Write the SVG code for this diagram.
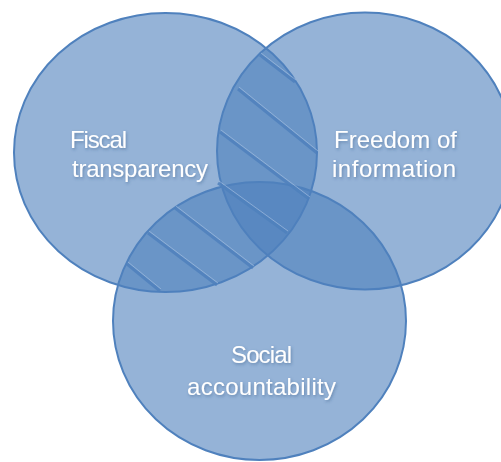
<svg xmlns="http://www.w3.org/2000/svg" width="501" height="462" viewBox="0 0 501 462">
  <defs>
    <style>
      .set { fill: #4F81BD; fill-opacity: 0.6; stroke: #4F81BD; stroke-width: 2; }
      .hatch { stroke: #4F81BD; stroke-width: 3; stroke-linecap: butt; opacity: 0.85; }
      .hl { stroke: #A9C2E2; stroke-width: 1; opacity: 0.6; }
      .label { font-family: "Liberation Sans", Arial, sans-serif; font-size: 24px; fill: #FFFFFF; filter: url(#glow); }
    </style>
    <filter id="glow" x="-10%" y="-30%" width="120%" height="160%">
      <feDropShadow dx="1" dy="1.5" stdDeviation="1.5" flood-color="#2F4F7A" flood-opacity="0.45"/>
    </filter>
  </defs>
  <rect width="501" height="462" fill="#FFFFFF"/>

  <g id="fiscal-transparency">
    <ellipse class="set" cx="165.5" cy="152.5" rx="151.5" ry="139.5"/>
  </g>
  <g id="freedom-of-information">
    <ellipse class="set" cx="365" cy="151" rx="148" ry="138.5"/>
  </g>
  <g id="social-accountability">
    <ellipse class="set" cx="259.5" cy="321" rx="146.5" ry="139"/>
  </g>

  <g id="hatching">
    <line class="hatch" x1="260" y1="55" x2="295" y2="82"/>
    <line class="hatch" x1="238" y1="89" x2="317" y2="153"/>
    <line class="hatch" x1="220" y1="132" x2="309" y2="199"/>
    <line class="hatch" x1="218" y1="183" x2="287" y2="233"/>
    <line class="hatch" x1="175" y1="208" x2="253" y2="268"/>
    <line class="hatch" x1="148" y1="233" x2="217" y2="285"/>
    <line class="hatch" x1="127" y1="264" x2="160" y2="291"/>
    <line class="hl" x1="261" y1="53" x2="296" y2="80"/>
    <line class="hl" x1="239" y1="87" x2="318" y2="151"/>
    <line class="hl" x1="221" y1="130" x2="310" y2="197"/>
    <line class="hl" x1="219" y1="181" x2="288" y2="231"/>
    <line class="hl" x1="176" y1="206" x2="254" y2="266"/>
    <line class="hl" x1="149" y1="231" x2="218" y2="283"/>
    <line class="hl" x1="128" y1="262" x2="161" y2="289"/>
  </g>

  <g id="labels">
    <text class="label" x="70" y="148" textLength="57">Fiscal</text>
    <text class="label" x="72" y="177" textLength="136">transparency</text>
    <text class="label" x="334" y="148" textLength="123">Freedom of</text>
    <text class="label" x="332" y="177" textLength="124">information</text>
    <text class="label" x="231" y="363" textLength="61">Social</text>
    <text class="label" x="187" y="395" textLength="149">accountability</text>
  </g>
</svg>
